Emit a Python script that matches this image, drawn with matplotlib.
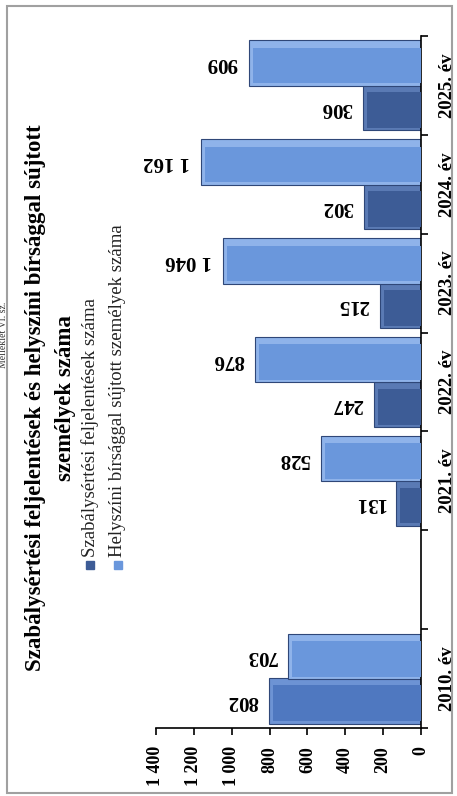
import numpy as np
import matplotlib
matplotlib.use("Agg")
import matplotlib.pyplot as plt
from matplotlib.lines import Line2D
from matplotlib.patches import Rectangle

# ---- data ----
categories = ['2010. év', '', '2021. év', '2022. év', '2023. év', '2024. év', '2025. év']
feljelentes = [802, np.nan, 131, 247, 215, 302, 306]
helyszini = [703, np.nan, 528, 876, 1046, 1162, 909]
tick_values = [0, 200, 400, 600, 800, 1000, 1200, 1400]
tick_labels = ['0', '200', '400', '600', '800', '1 000', '1 200', '1 400']
series_names = ['Szabálysértési feljelentések száma',
                'Helyszíni bírsággal sújtott személyek száma']
title_lines = ['Szabálysértési feljelentések és helyszíni bírsággal sújtott',
               'személyek száma']

W, H = 457, 796
fig = plt.figure(figsize=(W / 100, H / 100), dpi=100)
serif = ['Liberation Serif', 'DejaVu Serif']

def fx(px):
    return px / W

def fy(py):
    return 1 - py / H

left_px, right_px, top_px, bot_px = 156, 421, 36, 728
ax = fig.add_axes([fx(left_px), fy(bot_px), fx(right_px) - fx(left_px), fy(top_px) - fy(bot_px)])
ax.patch.set_alpha(0)

dark = '#3d5c96'
dark_hi = '#5a7ab4'
first_2010 = '#4f78c0'
first_2010_hi = '#6d93d4'
light = '#6a97dc'
light_hi = '#8fb3ea'
edge = '#2f4778'

n = len(categories)
pos = np.arange(n)
bh = 0.46
off = 0.225
fmt = lambda v: f"{int(v):,}".replace(',', ' ')

xin = 20  # bevel inset in value units
yin = 0.05
for i in range(n):
    v1 = feljelentes[i]
    v2 = helyszini[i]
    for v, yc, base, hi in [(v1, pos[i] - off, dark if i > 0 else first_2010, dark_hi if i > 0 else first_2010_hi),
                            (v2, pos[i] + off, light, light_hi)]:
        if np.isnan(v):
            continue
        ax.barh(yc, v, height=bh, color=hi, edgecolor=edge, linewidth=0.8, zorder=2)
        ax.barh(yc - yin / 2, v - xin, height=bh - 2 * yin, color=base, linewidth=0, zorder=3)
        ax.annotate(fmt(v), xy=(v, yc), xytext=(-8, 0), textcoords='offset points',
                    rotation=180, ha='right', va='center', fontsize=15,
                    fontweight='bold', family=serif, color='black')

ax.set_xlim(1400, 0)
ax.set_ylim(-0.5, n - 0.5)
for s in ['left', 'top']:
    ax.spines[s].set_visible(False)
ax.spines['right'].set_color('black')
ax.spines['bottom'].set_color('black')
ax.spines['right'].set_linewidth(1.2)
ax.spines['bottom'].set_linewidth(1.2)

ax.set_xticks(tick_values)
ax.set_xticklabels(tick_labels, rotation=90, fontsize=13, fontweight='bold', family=serif)
ax.tick_params(axis='x', direction='out', length=5, width=1.2, pad=8)

ax.yaxis.tick_right()
ax.set_yticks(pos)
ax.set_yticklabels(categories, rotation=90, fontsize=13.5, fontweight='bold', family=serif,
                   va='center')
ax.set_yticks(np.arange(n + 1) - 0.5, minor=True)
ax.tick_params(axis='y', which='major', length=0, pad=13)
ax.tick_params(axis='y', which='minor', direction='out', length=5, width=1.2)

# title
fig.text(fx(36), fy(398), title_lines[0], rotation=90, ha='center', va='center',
         fontsize=16.5, fontweight='bold', family=serif)
fig.text(fx(66), fy(398), title_lines[1], rotation=90, ha='center', va='center',
         fontsize=16.5, fontweight='bold', family=serif)

# legend (manual, rotated)
for k, (name, col) in enumerate(zip(series_names, [dark, light])):
    xc = 90 + 28 * k
    fig.add_artist(Line2D([fx(xc)], [fy(565)], marker='s', markersize=6, color=col,
                          linestyle='none', transform=fig.transFigure))
    fig.text(fx(xc), fy(557), name, rotation=90, ha='center', va='bottom',
             fontsize=13.5, family=serif, color='#222222')

# partially visible header text at the left edge
fig.text(fx(3.5), fy(335), 'Melléklet VI. sz.', rotation=90, ha='center', va='center',
         fontsize=7, family=serif, color='#333333')

# frame
fig.add_artist(Rectangle((fx(7), fy(793)), fx(452) - fx(7), fy(6) - fy(793),
                         transform=fig.transFigure, fill=False, edgecolor='#a0a0a0', linewidth=1.5))

fig.savefig('out.png', dpi=100)
